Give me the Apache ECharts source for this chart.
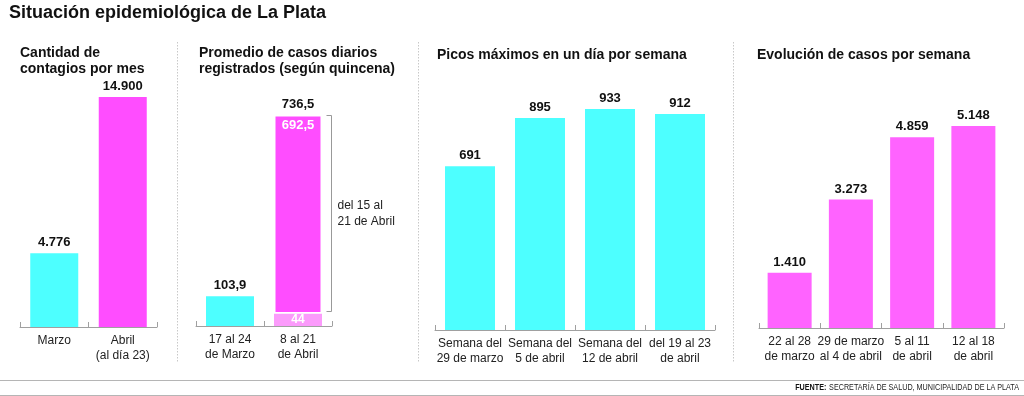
<!DOCTYPE html>
<html><head><meta charset="utf-8">
<script src="https://cdn.jsdelivr.net/npm/echarts@6/dist/echarts.min.js"></script>
<style>html,body{margin:0;padding:0;background:#fff}#c{width:1024px;height:396px}</style>
</head><body><div id="c"></div>
<script>
// ---- data ----
const mainTitle = 'Situación epidemiológica de La Plata';
const panelTitles = ['Cantidad de\ncontagios por mes', 'Promedio de casos diarios\nregistrados (según quincena)', 'Picos máximos en un día por semana', 'Evolución de casos por semana'];
const p1Cats = ['Marzo', 'Abril\n(al día 23)'];
const p1Vals = [4776, 14900];
const p2Cats = ['17 al 24\nde Marzo', '8 al 21\nde Abril'];
const p2Marzo = [103.9, '-'];
const p2AbrilBase = ['-', 44];      // 8 al 14 de Abril
const p2AbrilTop = ['-', 692.5];    // del 15 al 21 de Abril
const p2BracketLabel = 'del 15 al\n21 de Abril';
const p3Cats = ['Semana del\n29 de marzo', 'Semana del\n5 de abril', 'Semana del\n12 de abril', 'del 19 al 23\nde abril'];
const p3Vals = [691, 895, 933, 912];
const p4Cats = ['22 al 28\nde marzo', '29 de marzo\nal 4 de abril', '5 al 11\nde abril', '12 al 18\nde abril'];
const p4Vals = [1410, 3273, 4859, 5148];
const source = ['FUENTE:', 'SECRETARÍA DE SALUD, MUNICIPALIDAD DE LA PLATA'];

// ---- helpers ----
const CYAN = '#4dffff', MAG = '#ff4dff', MAG2 = '#ff63ff', LIGHT = '#fb9bfb';
const FONT = 'Liberation Sans, Arial, sans-serif';
function fmt(v) {
  const neg = v < 0; v = Math.abs(v);
  let [i, d] = String(v).split('.');
  i = i.replace(/\B(?=(\d{3})+(?!\d))/g, '.');
  return (neg ? '-' : '') + i + (d ? ',' + d : '');
}
const p2Totals = p2AbrilBase.map((b, i) => (b === '-' ? '-' : b + p2AbrilTop[i]));

const grids = [
  {left: 20, width: 137, top: 97, bottom: 69},
  {left: 196, width: 136, top: 115, bottom: 70},
  {left: 435, width: 280, top: 109, bottom: 66},
  {left: 759, width: 245, top: 126, bottom: 68}
];
const cats = [p1Cats, p2Cats, p3Cats, p4Cats];
const maxes = [Math.max(...p1Vals), Math.max(...p2Totals.filter(v => v !== '-')), Math.max(...p3Vals), Math.max(...p4Vals)];

const xAxes = cats.map((c, i) => ({
  type: 'category', gridIndex: i, data: c,
  axisLine: {show: true, lineStyle: {color: '#a0a0a0', width: 1}},
  axisTick: {show: true, inside: true, length: 5, interval: 0, lineStyle: {color: '#a0a0a0', width: 1}},
  axisLabel: {color: '#222', fontFamily: FONT, fontSize: 12, lineHeight: 15, margin: 6, interval: 0}
}));
const yAxes = maxes.map((m, i) => ({type: 'value', gridIndex: i, min: 0, max: m, show: false, splitLine: {show: false}}));

const valLabel = {show: true, position: 'top', distance: 4, color: '#111', fontFamily: FONT, fontWeight: 'bold', fontSize: 13, formatter: p => fmt(p.value)};

function barItem(vals, colors) {
  return vals.map((v, i) => ({value: v, itemStyle: {color: colors[i]}}));
}

const series = [
  {type: 'bar', xAxisIndex: 0, yAxisIndex: 0, barWidth: 48, data: barItem(p1Vals, [CYAN, MAG]), label: valLabel, silent: true},
  {type: 'bar', xAxisIndex: 1, yAxisIndex: 1, barWidth: 48, barGap: '-100%', stack: 's', data: p2Marzo, itemStyle: {color: CYAN}, label: valLabel, silent: true},
  {type: 'bar', xAxisIndex: 1, yAxisIndex: 1, barWidth: 48, barGap: '-100%', stack: 's', data: p2AbrilBase, itemStyle: {color: LIGHT},
    label: {show: true, position: 'inside', color: '#fff', fontFamily: FONT, fontWeight: 'bold', fontSize: 12, formatter: p => fmt(p.value)}, silent: true},
  {type: 'bar', xAxisIndex: 1, yAxisIndex: 1, barWidth: 48, barGap: '-100%', stack: 's', data: p2AbrilTop, itemStyle: {color: MAG, borderColor: '#fff', borderWidth: 1.5},
    label: {show: true, position: 'insideTop', distance: 4, color: '#fff', fontFamily: FONT, fontWeight: 'bold', fontSize: 13, formatter: p => fmt(p.value)}, silent: true},
  {type: 'bar', xAxisIndex: 1, yAxisIndex: 1, barWidth: 48, barGap: '-100%', data: p2Totals, z: 1, itemStyle: {color: 'rgba(0,0,0,0)'}, label: valLabel, silent: true},
  {type: 'custom', xAxisIndex: 1, yAxisIndex: 1, clip: false, silent: true, z: 5,
    data: [[1, p2AbrilBase[1], p2Totals[1]]],
    encode: {x: 0, y: [1, 2]},
    renderItem: function (params, api) {
      const pb = api.coord([api.value(0), api.value(1)]);
      const pt = api.coord([api.value(0), api.value(2)]);
      const bw = api.size([1, 0])[0];
      const x = Math.round(pb[0] + bw / 2) - 0.5;
      const yb = Math.round(pb[1]) - 1.5, yt = Math.round(pt[1]) + 0.5;
      return {type: 'group', children: [
        {type: 'polyline', shape: {points: [[x - 5, yt], [x, yt], [x, yb], [x - 5, yb]]}, style: {stroke: '#999', fill: null, lineWidth: 1}},
        {type: 'text', x: x + 6, y: (yb + yt) / 2, style: {text: p2BracketLabel, fill: '#222', font: '12px ' + FONT, lineHeight: 16, verticalAlign: 'middle', align: 'left'}}
      ]};
    }
  },
  {type: 'bar', xAxisIndex: 2, yAxisIndex: 2, barWidth: 50, data: p3Vals, itemStyle: {color: CYAN}, label: valLabel, silent: true},
  {type: 'bar', xAxisIndex: 3, yAxisIndex: 3, barWidth: 44, data: p4Vals, itemStyle: {color: MAG2}, label: valLabel, silent: true}
];

const ptStyle = {color: '#111', fontFamily: FONT, fontWeight: 'bold', fontSize: 14, lineHeight: 16};
const titles = [
  {text: mainTitle, left: 9, top: 2, padding: 0, textStyle: {color: '#111', fontFamily: FONT, fontWeight: 'bold', fontSize: 18, lineHeight: 22}},
  {text: panelTitles[0], left: 20, top: 45, padding: 0, textStyle: ptStyle},
  {text: panelTitles[1], left: 199, top: 45, padding: 0, textStyle: ptStyle},
  {text: panelTitles[2], left: 437, top: 47, padding: 0, textStyle: ptStyle},
  {text: panelTitles[3], left: 757, top: 47, padding: 0, textStyle: ptStyle}
];

const divStyle = {stroke: '#c8c8c8', lineWidth: 1, lineDash: [1.5, 1.5]};
const graphic = [
  {type: 'line', shape: {x1: 177.5, y1: 42, x2: 177.5, y2: 363}, style: divStyle, silent: true},
  {type: 'line', shape: {x1: 418.5, y1: 42, x2: 418.5, y2: 363}, style: divStyle, silent: true},
  {type: 'line', shape: {x1: 733.5, y1: 42, x2: 733.5, y2: 363}, style: divStyle, silent: true},
  {type: 'line', shape: {x1: 0, y1: 380.5, x2: 1024, y2: 380.5}, style: {stroke: '#b5b5b5', lineWidth: 1.2}, silent: true},
  {type: 'line', shape: {x1: 0, y1: 395.5, x2: 1024, y2: 395.5}, style: {stroke: '#b5b5b5', lineWidth: 1.2}, silent: true},
  {type: 'text', x: 1019, y: 388, scaleX: 0.8, silent: true,
    style: {text: '{b|' + source[0] + '} {n|' + source[1] + '}', align: 'right', verticalAlign: 'middle',
      rich: {
        b: {fontFamily: FONT, fontWeight: 'bold', fontSize: 9, fill: '#111'},
        n: {fontFamily: FONT, fontSize: 9, fill: '#222'}
      }}}
];

const chart = echarts.init(document.getElementById('c'), null, {renderer: 'canvas'});
chart.setOption({
  animation: false,
  backgroundColor: '#fff',
  title: titles,
  grid: grids,
  xAxis: xAxes,
  yAxis: yAxes,
  series: series,
  graphic: graphic
});
</script></body></html>
